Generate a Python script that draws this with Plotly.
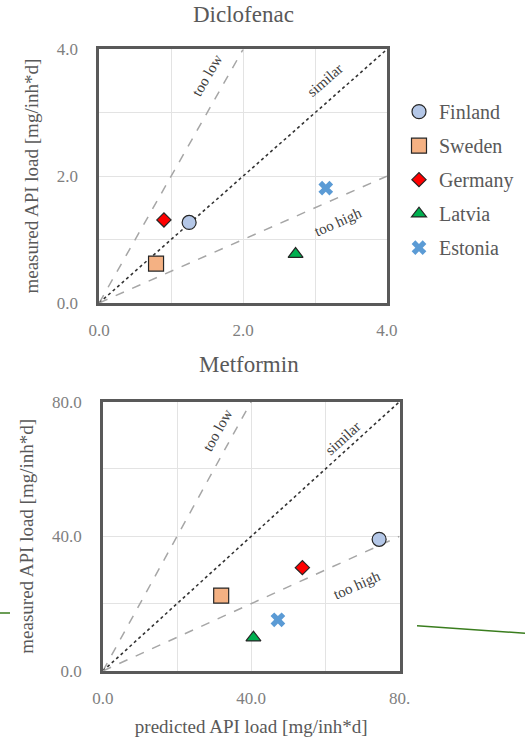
import plotly.graph_objects as go

countries = ["Finland", "Sweden", "Germany", "Latvia", "Estonia"]
symbols = ["circle", "square", "diamond", "triangle-up", "x"]
fills = ["#b4c7e7", "#f4b183", "#ff0000", "#00b050", "#5b9bd5"]
sizes = [14, 15, 11, 13, 13]

# Diclofenac
dic_pred = [1.25, 0.79, 0.90, 2.73, 3.15]
dic_meas = [1.27, 0.62, 1.31, 0.77, 1.81]
# Metformin
met_pred = [74.5, 31.9, 53.8, 40.6, 47.2]
met_meas = [39.1, 22.4, 30.7, 9.9, 15.2]

dic_max = 4.0
met_max = 80.0

FONT = "Liberation Serif"
GREY = "#595959"

fig = go.Figure()

def add_ref_lines(xa, ya, mx):
    # too low (y=2x), similar (y=x), too high (y=x/2)
    fig.add_trace(go.Scatter(x=[0, mx / 2], y=[0, mx], mode="lines", xaxis=xa, yaxis=ya,
                             line=dict(color="#a6a6a6", width=1.5, dash="dash"), showlegend=False, hoverinfo="skip"))
    fig.add_trace(go.Scatter(x=[0, mx], y=[0, mx], mode="lines", xaxis=xa, yaxis=ya,
                             line=dict(color="#333333", width=1.6, dash="dot"), showlegend=False, hoverinfo="skip"))
    fig.add_trace(go.Scatter(x=[0, mx], y=[0, mx / 2], mode="lines", xaxis=xa, yaxis=ya,
                             line=dict(color="#a6a6a6", width=1.5, dash="dash"), showlegend=False, hoverinfo="skip"))

add_ref_lines("x", "y", dic_max)
add_ref_lines("x2", "y2", met_max)

for i, c in enumerate(countries):
    if symbols[i] == "x":
        mk = dict(symbol="x", size=sizes[i], color=fills[i], line=dict(width=0))
    else:
        mk = dict(symbol=symbols[i], size=sizes[i], color=fills[i], line=dict(color="#262626", width=1.2))
    fig.add_trace(go.Scatter(x=[dic_pred[i]], y=[dic_meas[i]], mode="markers", name=c,
                             marker=mk, xaxis="x", yaxis="y", legendgroup=c, showlegend=True))
    fig.add_trace(go.Scatter(x=[met_pred[i]], y=[met_meas[i]], mode="markers", name=c,
                             marker=mk, xaxis="x2", yaxis="y2", legendgroup=c, showlegend=False))

axis_common = dict(showline=True, linecolor="#595959", linewidth=2.5, mirror=True, automargin=False,
                   showgrid=True, gridcolor="#e3e3e3", gridwidth=1.2, zeroline=False, ticks="",
                   tickfont=dict(family=FONT, size=17, color="#7f7f7f"))

fig.update_layout(
    width=525, height=737,
    margin=dict(l=0, r=0, t=0, b=0, autoexpand=False),
    paper_bgcolor="white", plot_bgcolor="white",
    font=dict(family=FONT, color=GREY),
    xaxis=dict(domain=[0.189, 0.737], anchor="y", range=[0, dic_max],
               tickvals=[0, 2, 4], ticktext=["0.0", "2.0", "4.0"], ticklabelstandoff=10,
               minor=dict(dtick=1, showgrid=True, gridcolor="#e3e3e3"), **axis_common),
    yaxis=dict(domain=[0.589, 0.933], anchor="x", range=[0, dic_max],
               tickvals=[0, 2, 4], ticktext=["0.0", "2.0", "4.0"], ticklabelstandoff=15,
               minor=dict(dtick=1, showgrid=True, gridcolor="#e3e3e3"),
               title=dict(text="measured API load [mg/inh*d]", font=dict(family=FONT, size=19, color=GREY), standoff=14),
               **axis_common),
    xaxis2=dict(domain=[0.196, 0.761], anchor="y2", range=[0, met_max],
                tickvals=[0, 40, 80], ticktext=["0.0", "40.0", "80."], ticklabelstandoff=10,
                minor=dict(dtick=20, showgrid=True, gridcolor="#e3e3e3"),
                title=dict(text="predicted API load [mg/inh*d]", font=dict(family=FONT, size=19, color=GREY), standoff=13),
                **axis_common),
    yaxis2=dict(domain=[0.0896, 0.455], anchor="x2", range=[0, met_max],
                tickvals=[0, 40, 80], ticktext=["0.0", "40.0", "80.0"], ticklabelstandoff=15,
                minor=dict(dtick=20, showgrid=True, gridcolor="#e3e3e3"),
                title=dict(text="measured API load [mg/inh*d]", font=dict(family=FONT, size=19, color=GREY), standoff=14),
                **axis_common),
    legend=dict(x=0.76, y=0.875, xanchor="left", yanchor="top", traceorder="grouped",
                tracegroupgap=5, font=dict(family=FONT, size=20, color=GREY),
                itemwidth=30, bgcolor="rgba(0,0,0,0)"),
    showlegend=True,
)

annots = [
    dict(text="Diclofenac", x=0.463, y=0.981, xref="paper", yref="paper", yanchor="middle", font=dict(size=23)),
    dict(text="Metformin", x=0.474, y=0.506, xref="paper", yref="paper", yanchor="middle", font=dict(size=23)),
    dict(text="too low", x=1.50, y=3.60, xref="x", yref="y", textangle=-60, font=dict(size=15, color="#404040")),
    dict(text="similar", x=3.14, y=3.52, xref="x", yref="y", textangle=-41, font=dict(size=15, color="#404040")),
    dict(text="too high", x=3.32, y=1.28, xref="x", yref="y", textangle=-24, font=dict(size=15, color="#404040")),
    dict(text="too low", x=31.0, y=71.5, xref="x2", yref="y2", textangle=-61, font=dict(size=15, color="#404040")),
    dict(text="similar", x=64.8, y=69.2, xref="x2", yref="y2", textangle=-42, font=dict(size=15, color="#404040")),
    dict(text="too high", x=68.6, y=25.5, xref="x2", yref="y2", textangle=-24, font=dict(size=15, color="#404040")),
]
for a in annots:
    a.setdefault("showarrow", False)
    a["font"] = dict(family=FONT, color=a["font"].get("color", GREY), size=a["font"]["size"])
    fig.add_annotation(**a)

# stray green connector lines visible at the image edges
fig.add_shape(type="line", xref="paper", yref="paper", x0=0, y0=(737 - 613) / 737, x1=10 / 525, y1=(737 - 613) / 737,
              line=dict(color="#3a7d1e", width=1.5))
fig.add_shape(type="line", xref="paper", yref="paper", x0=417 / 525, y0=(737 - 625.7) / 737, x1=1, y1=(737 - 633.3) / 737,
              line=dict(color="#3a7d1e", width=1.5))

fig.write_html("out.html", config={"displayModeBar": False},
               post_script="document.body.style.margin='0px';document.body.style.overflow='hidden';")
